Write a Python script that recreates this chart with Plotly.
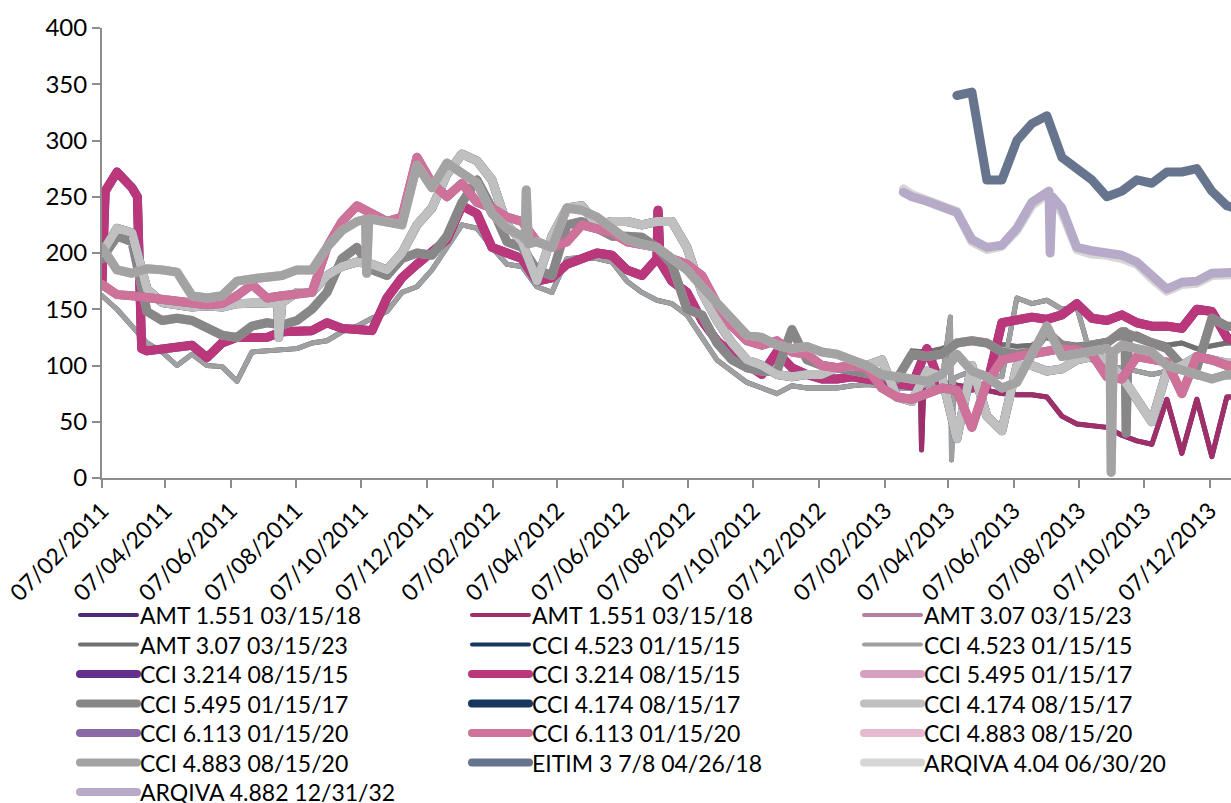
import pandas as pd
import plotly.graph_objects as go

# Spread history (bp) sampled every 14 days from 07/02/2011
dates = pd.date_range("2011-02-07", periods=77, freq="14D")
N = None

cci_3214 = [175, 272, 258, 113, 115, 118, 118, 107, 120, 125,
            124, 125, 130, 130, 131, 138, 133, 132, 131, 160,
            178, 190, 200, 212, 242, 235, 205, 200, 195, 175,
            178, 190, 195, 200, 198, 185, 180, 195, 175, 165,
            140, 122, 110, 100, 92, 112, 98, 92, 88, 88,
            90, 88, 85, 84, 82, 115, 80, 78, 80, 82,
            138, 140, 143, 141, 145, 155, 142, 140, 145, 138,
            135, 135, 133, 150, 148, 125, 120]

cci_6113 = [172, 163, 162, 160, 158, 156, 155, 154, 155, 162,
            172, 160, 162, 163, 165, 205, 228, 242, 235, 228,
            232, 285, 262, 250, 262, 245, 240, 232, 228, 210,
            205, 210, 225, 222, 218, 210, 207, 205, 195, 190,
            180, 155, 135, 122, 118, 122, 112, 110, 100, 98,
            100, 98, 80, 72, 70, 74, 80, 78, 45, 85,
            105, 108, 110, 112, 115, 114, 110, 90, 88, 108,
            105, 103, 75, 108, 105, 100, 100]

cci_4883 = [205, 185, 182, 186, 185, 183, 162, 160, 162, 175,
            177, 178, 180, 185, 185, 205, 220, 228, 230, 228,
            225, 278, 258, 280, 270, 262, 235, 222, 215, 210,
            205, 240, 238, 232, 222, 212, 208, 205, 195, 185,
            170, 155, 140, 127, 125, 118, 115, 117, 112, 110,
            105, 100, 92, 90, 88, 86, 92, 110, 95, 90,
            80, 85, 110, 135, 108, 110, 112, 115, 118, 115,
            112, 100, 95, 92, 88, 92, 92]

cci_5495 = [195, 215, 210, 148, 140, 142, 140, 133, 127, 125,
            135, 138, 136, 140, 150, 165, 195, 205, 185, 180,
            195, 200, 198, 215, 245, 265, 240, 210, 205, 185,
            180, 225, 228, 222, 215, 215, 214, 205, 190, 150,
            145, 120, 105, 98, 95, 95, 132, 105, 100, 98,
            96, 94, 90, 88, 110, 108, 110, 120, 122, 120,
            112, 110, 112, 130, 118, 115, 118, 120, 130, 125,
            120, 115, 100, 98, 142, 135, 135]

cci_4174 = [200, 222, 218, 168, 156, 153, 152, 153, 152, 155,
            155, 155, 156, 165, 165, 180, 188, 192, 190, 185,
            200, 225, 240, 270, 288, 282, 265, 225, 210, 175,
            215, 240, 242, 225, 228, 228, 225, 228, 228, 205,
            165, 140, 120, 105, 100, 92, 90, 92, 92, 98,
            100, 100, 105, 72, 68, 95, 90, 35, 100, 55,
            42, 100, 100, 95, 97, 105, 108, 105, 90, 70,
            50, 95, 100, 108, 105, 102, 102]

cci_4523 = [162, 150, 135, 120, 112, 100, 110, 100, 99, 86,
            112, 113, 113, 115, 120, 122, 130, 135, 142, 148,
            165, 170, 185, 205, 225, 222, 205, 190, 188, 170,
            165, 195, 196, 195, 192, 175, 165, 158, 155, 145,
            125, 105, 95, 85, 80, 75, 82, 80, 80, 80,
            82, 83, 82, 80, 80, 82, 85, 90, 95, 92,
            90, 160, 155, 158, 150, 152, 105, 100, 98, 95,
            92, 95, 95, 90, 88, 90, 90]

amt_1551 = [N] * 55 + [88, 85, 82, 80, 78, 75, 74, 74, 72, 55,
                       48, 47, 45, 38, 33, 30, 70, 22, 70, 19, 72, 72]

amt_307 = [N] * 54 + [113, 112, 115, 120, 122, 120, 118, 117, 118, 125,
                      120, 118, 120, 122, 125, 128, 122, 118, 120, 115,
                      118, 120, 120]

eitim_378 = [N] * 57 + [340, 343, 265, 265, 300, 315, 322, 285, 275, 265,
                        250, 255, 265, 262, 272, 272, 275, 255, 242, 238]

arqiva_404 = [N] * 54 + [252, 247, 243, 237, 210, 203, 206, 220, 242, 252,
                         236, 203, 199, 198, 195, 190, 177, 166, 172, 173,
                         180, 181, 181]

arqiva_4882 = [N] * 54 + [250, 246, 242, 236, 212, 205, 207, 222, 245, 255,
                          240, 205, 202, 200, 198, 192, 180, 168, 174, 175,
                          182, 183, 183]

# Daily moves that fall between the 14-day samples
cci_3214_days = [("2011-02-10", 255), ("2011-03-12", 250), ("2011-03-16", 115),
                 ("2012-07-10", 238), ("2012-07-12", 192)]
cci_4883_days = [("2011-10-11", 230), ("2011-10-12", 182), ("2011-10-14", 230),
                 ("2012-03-08", 212), ("2012-03-09", 256), ("2012-03-11", 208),
                 ("2013-09-05", 112), ("2013-09-06", 5), ("2013-09-08", 112)]
cci_5495_days = [("2013-09-19", 130), ("2013-09-20", 40), ("2013-09-22", 128)]
cci_4174_days = [("2011-07-21", 156), ("2011-07-22", 125)]
cci_4523_days = [("2013-04-09", 143), ("2013-04-10", 16), ("2013-04-12", 88)]
amt_1551_days = [("2013-03-12", 85), ("2013-03-13", 25), ("2013-03-15", 80)]
arqiva_4882_days = [("2013-02-24", 254), ("2013-07-10", 255), ("2013-07-11", 200),
                    ("2013-07-13", 250)]
arqiva_404_days = [("2013-02-24", 257)]


def build(vals, days=()):
    s = pd.Series(vals, index=dates, dtype="float").dropna()
    if days:
        extra = pd.Series([v for _, v in days],
                          index=pd.to_datetime([d for d, _ in days]), dtype="float")
        s = pd.concat([s, extra]).sort_index()
    return s


THIN, THICK = 5, 9
series = [
    ("AMT 1.551 03/15/18", "#4E2A74", THIN, build(amt_1551, amt_1551_days)),
    ("AMT 1.551 03/15/18", "#9E2F68", THIN, build(amt_1551, amt_1551_days)),
    ("AMT 3.07 03/15/23", "#B5809E", THIN, build(amt_307)),
    ("AMT 3.07 03/15/23", "#707070", THIN, build(amt_307)),
    ("CCI 4.523 01/15/15", "#17375E", THIN, build(cci_4523, cci_4523_days)),
    ("CCI 4.523 01/15/15", "#A0A0A0", THIN, build(cci_4523, cci_4523_days)),
    ("CCI 3.214 08/15/15", "#632E8C", THICK, build(cci_3214, cci_3214_days)),
    ("CCI 3.214 08/15/15", "#BA377B", THICK, build(cci_3214, cci_3214_days)),
    ("CCI 5.495 01/15/17", "#D6A0BE", THICK, build(cci_5495, cci_5495_days)),
    ("CCI 5.495 01/15/17", "#878787", THICK, build(cci_5495, cci_5495_days)),
    ("CCI 4.174 08/15/17", "#17375E", THICK, build(cci_4174, cci_4174_days)),
    ("CCI 4.174 08/15/17", "#C0C0C0", THICK, build(cci_4174, cci_4174_days)),
    ("CCI 6.113 01/15/20", "#8A6AA6", THICK, build(cci_6113)),
    ("CCI 6.113 01/15/20", "#CF729A", THICK, build(cci_6113)),
    ("CCI 4.883 08/15/20", "#E7B9D1", THICK, build(cci_4883, cci_4883_days)),
    ("CCI 4.883 08/15/20", "#A3A3A3", THICK, build(cci_4883, cci_4883_days)),
    ("EITIM 3 7/8 04/26/18", "#67748E", THICK, build(eitim_378)),
    ("ARQIVA 4.04 06/30/20", "#D6D6D6", THICK, build(arqiva_404, arqiva_404_days)),
    ("ARQIVA 4.882 12/31/32", "#B6AAC8", THICK, build(arqiva_4882, arqiva_4882_days)),
]

# Axis ticks on the 7th of every second month
tick_dates = pd.date_range("2011-02-01", "2013-12-01", freq="2MS") + pd.Timedelta(days=6)

FONT = "Lato, 'Open Sans', sans-serif"
W, H = 1231, 803
ML, MR, MT, MB = 102, 0, 28, 325

fig = go.Figure()
for name, color, width, s in series:
    fig.add_trace(go.Scatter(x=s.index, y=s.values, mode="lines", name=name,
                             line=dict(color=color, width=width),
                             showlegend=False))

axis_grey = "#8C8C8C"
fig.update_xaxes(range=["2011-02-07", "2013-12-26 21:00"], tickvals=tick_dates,
                 tickformat="%d/%m/%Y", tickangle=-45, showgrid=False, zeroline=False,
                 showline=True, linecolor=axis_grey, linewidth=2, ticks="outside",
                 ticklen=8, tickwidth=2, tickcolor=axis_grey,
                 tickfont=dict(family=FONT, size=23, color="black"))
fig.update_yaxes(range=[0, 400], dtick=50, showgrid=False, zeroline=False,
                 showline=True, linecolor=axis_grey, linewidth=2, ticks="outside",
                 ticklen=8, tickwidth=2, tickcolor=axis_grey,
                 tickfont=dict(family=FONT, size=24, color="black"))

# Three-column key under the axis
plot_w, plot_h = W - ML - MR, H - MT - MB
col_px = [80, 472, 864]
row_px = [615 + 29.5 * k for k in range(7)]
for i, (name, color, width, _) in enumerate(series):
    r, c = divmod(i, 3)
    x0 = (col_px[c] - ML) / plot_w
    x1 = (col_px[c] + 57 - ML) / plot_w
    y = (H - MB - row_px[r]) / plot_h
    fig.add_shape(type="line", xref="paper", yref="paper", x0=x0, x1=x1, y0=y, y1=y,
                  line=dict(color=color, width=width - 1))
    fig.add_annotation(xref="paper", yref="paper", x=(col_px[c] + 58 - ML) / plot_w,
                       y=y, text=name, showarrow=False, xanchor="left", yanchor="middle",
                       font=dict(family=FONT, size=23, color="black"))

fig.update_layout(width=W, height=H, margin=dict(l=ML, r=MR, t=MT, b=MB),
                  paper_bgcolor="white", plot_bgcolor="white")

# Rounded joins and caps on the series lines and key swatches
round_js = """
document.querySelectorAll('.scatterlayer path.js-line, .shapelayer path').forEach(function(p){
  p.style.strokeLinejoin = 'round';
  p.style.strokeLinecap = 'round';
});
"""
fig.write_html("out.html", post_script=round_js)
